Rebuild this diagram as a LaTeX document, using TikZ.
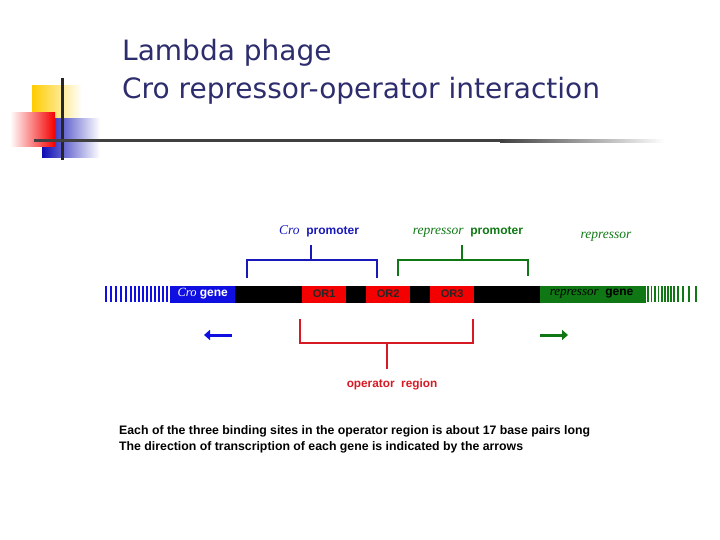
\documentclass[tikz,border=0pt]{standalone}
\usepackage{fontspec}
\setmainfont{Liberation Sans}
\newfontfamily\itserif{Liberation Serif}
\newfontfamily\titlefont{DejaVu Sans}
\usetikzlibrary{arrows.meta,positioning}
\definecolor{titleblue}{RGB}{45,45,110}
\definecolor{croblue}{RGB}{15,15,225}
\definecolor{brblue}{RGB}{25,25,185}
\definecolor{repgreen}{RGB}{15,120,20}
\definecolor{orred}{RGB}{245,0,0}
\definecolor{brred}{RGB}{215,25,35}
\definecolor{logoyellow}{RGB}{255,204,0}

\begin{document}
\begin{tikzpicture}[
  x=1pt, y=-1pt,
  font=\fontsize{10}{12}\selectfont,
  seg/.style={draw=none, minimum height=17pt, inner sep=0pt, anchor=west, font=\fontsize{12}{12}\selectfont\bfseries},
  orbox/.style={seg, fill=orred, minimum width=44pt, text=black!85, font=\fontsize{11}{12}\selectfont\bfseries},
  bracket/.style={line width=2.2pt},
  lab/.style={inner sep=0pt, anchor=base, font=\fontsize{12}{14}\selectfont\bfseries},
  itword/.style={font=\fontsize{13.5}{14}\selectfont\itserif\itshape\mdseries},
  dirarr/.style={line width=3pt, -{Triangle[length=6pt,width=10pt]}},
  tick/.style={line width=1.4pt}
]
\useasboundingbox (0,0) rectangle (720,540);

% ---------- Logo ----------
\shade[left color=logoyellow, right color=white] (32,86) rectangle (82,120);
\shade[left color=croblue!80!black, right color=white] (42,119) rectangle (100,158);
\shade[left color=white, right color=orred] (10,113) rectangle (55,147);
\draw[line width=3pt, black!85] (62,78) -- (62,160);
\draw[line width=3pt, black!75] (34,141) -- (500,141);
\shade[left color=black!75, right color=white] (500,139.5) rectangle (665,142.5);

% ---------- Title ----------
\node[anchor=base west, inner sep=0pt, text=titleblue, font=\fontsize{28}{32}\selectfont\titlefont] (title1) at (122,61) {Lambda phage};
\node[anchor=base west, inner sep=0pt, text=titleblue, font=\fontsize{28}{32}\selectfont\titlefont] (title2) at (122,99) {Cro repressor-operator interaction};

% ---------- DNA ----------
\node[seg, fill=black, minimum width=305pt] (dna) at (235,294) {};
\node[seg, fill=croblue, minimum width=65pt, text=white] (crogene) at (170,294) {{\fontsize{12.5}{12}\itserif\itshape\mdseries Cro} gene};
\node[orbox] (or1) at (302,294) {OR1};
\node[orbox] (or2) at (366,294) {OR2};
\node[orbox] (or3) at (430,294) {OR3};
\node[seg, fill=repgreen, minimum width=106pt, text=black] (repgene) at (540,294) {{\fontsize{13}{12}\itserif\itshape\mdseries repressor}\ \ gene\ \ };

\foreach \x in {106,111,116,121,126,131,135,139,143,147,151,155,159,163,167}
  \draw[tick, croblue] (\x,286) -- (\x,302);
\foreach \x in {648,651.5,655,658.5,662,665,668,671,674,678,683,689,696}
  \draw[tick, repgreen] (\x,286) -- (\x,302);

% ---------- Cro promoter ----------
\coordinate (crol) at (247,278);
\coordinate (cror) at (377,278);
\coordinate (crotop) at (311,245);
\draw[bracket, brblue] (crol) |- (cror |- 0,260) -- (cror);
\draw[bracket, brblue] (crotop) -- (crotop |- 0,260);
\node[lab, text=brblue] (crolab) at (319,234) {{\itserif\itshape\mdseries\fontsize{13.5}{14}\selectfont Cro}\ \ promoter};

% ---------- repressor promoter ----------
\coordinate (repl) at (398,276);
\coordinate (repr) at (528,276);
\coordinate (reptop) at (462,245);
\draw[bracket, repgreen] (repl) |- (repr |- 0,260) -- (repr);
\draw[bracket, repgreen] (reptop) -- (reptop |- 0,260);
\node[lab, text=repgreen] (replab) at (468,234) {{\itserif\itshape\mdseries\fontsize{13.5}{14}\selectfont repressor}\ \ promoter};
\node[lab, itword, text=repgreen] (repword) at (606,239) {repressor};

% ---------- operator region ----------
\coordinate (opl) at (300,319);
\coordinate (opr) at (473,319);
\coordinate (opbot) at (387,369);
\draw[bracket, brred] (opl) |- (opr |- 0,343) -- (opr);
\draw[bracket, brred] (opbot) -- (opbot |- 0,343);
\node[lab, text=brred, font=\fontsize{11.8}{14}\selectfont\bfseries] (oplab) at (392,387) {operator\ \ region};

% ---------- direction of transcription ----------
\coordinate (crostart) at (232,335);
\coordinate (croend) at (204,335);
\coordinate (repstart) at (540,335);
\coordinate (repend) at (568,335);
\draw[dirarr, croblue] (crostart) -- (croend);
\draw[dirarr, repgreen] (repstart) -- (repend);

% ---------- Notes ----------
\node[anchor=base west, inner sep=0pt, font=\fontsize{12.3}{14}\selectfont\bfseries] (note1) at (119,434) {Each of the three binding sites in the operator region is about 17 base pairs long};
\node[anchor=base west, inner sep=0pt, font=\fontsize{12.3}{14}\selectfont\bfseries] (note2) at (119,450) {The direction of transcription of each gene is indicated by the arrows};
\end{tikzpicture}
\end{document}
